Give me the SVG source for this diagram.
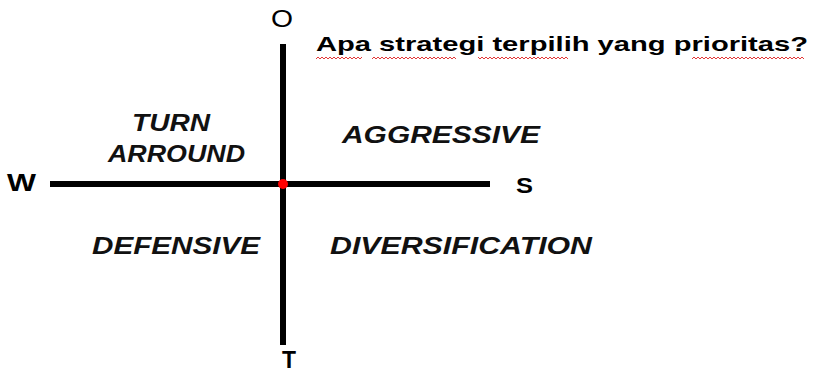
<svg xmlns="http://www.w3.org/2000/svg" width="837" height="374" viewBox="0 0 837 374">
<style>
.ax{stroke:#000;stroke-width:6;fill:none}
.lbl{font-family:"Liberation Sans",Arial,sans-serif;fill:#000}
.b{font-weight:bold}
.q{font-family:"Liberation Sans",Arial,sans-serif;font-size:24px;font-weight:bold;font-style:italic;fill:#111}
.sq{fill:url(#wave)}
</style>
<defs>
<pattern id="wave" x="0" y="0" width="4" height="4" patternUnits="userSpaceOnUse">
<polyline points="0,3 2,1 4,3" fill="none" stroke="#e02020" stroke-width="0.9"/>
</pattern>
</defs>
<rect width="837" height="374" fill="#fff"/>
<g id="connectors">
<line class="ax" x1="283" y1="44" x2="283" y2="345"/>
<line class="ax" x1="50" y1="184" x2="490" y2="184"/>
</g>
<g id="center"><circle cx="283" cy="184" r="5" fill="#ff0000"/></g>
<g id="O"><text class="lbl" x="271" y="27" font-size="24" textLength="22" lengthAdjust="spacingAndGlyphs">O</text></g>
<g id="T"><text class="lbl b" x="282" y="368" font-size="23" textLength="14" lengthAdjust="spacingAndGlyphs">T</text></g>
<g id="W"><text class="lbl b" x="7" y="191" font-size="23" textLength="29" lengthAdjust="spacingAndGlyphs">W</text></g>
<g id="S"><text class="lbl b" x="516" y="193" font-size="22" textLength="17" lengthAdjust="spacingAndGlyphs">S</text></g>
<g id="title">
<text class="lbl b" x="316" y="51" font-size="21" textLength="492" lengthAdjust="spacingAndGlyphs">Apa strategi terpilih yang prioritas?</text>
<rect class="sq" x="316" y="56" width="46" height="4"/>
<rect class="sq" x="372" y="56" width="84" height="4"/>
<rect class="sq" x="478" y="56" width="90" height="4"/>
<rect class="sq" x="692" y="56" width="112" height="4"/>
</g>
<g id="turnaround">
<text class="q" x="132" y="131" textLength="78" lengthAdjust="spacingAndGlyphs">TURN</text>
<text class="q" x="108" y="162" textLength="137" lengthAdjust="spacingAndGlyphs">ARROUND</text>
</g>
<g id="aggressive"><text class="q" x="342" y="143" textLength="198" lengthAdjust="spacingAndGlyphs">AGGRESSIVE</text></g>
<g id="defensive"><text class="q" x="92" y="254" textLength="168" lengthAdjust="spacingAndGlyphs">DEFENSIVE</text></g>
<g id="diversification"><text class="q" x="330" y="254" textLength="262" lengthAdjust="spacingAndGlyphs">DIVERSIFICATION</text></g>
</svg>
